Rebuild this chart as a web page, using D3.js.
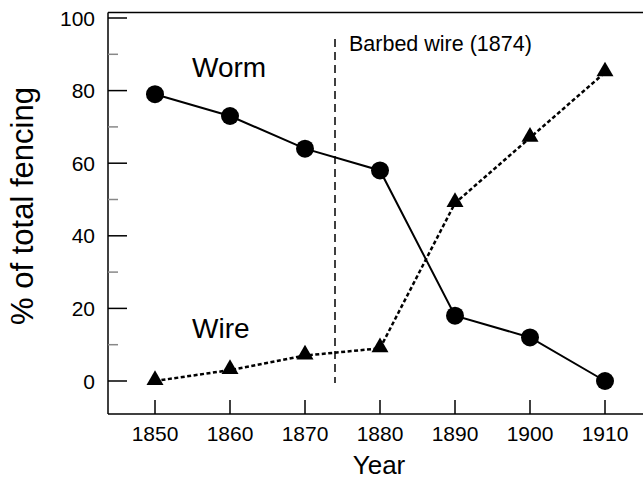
<!DOCTYPE html>
<html>
<head>
<meta charset="utf-8">
<script src="https://cdn.jsdelivr.net/npm/d3@7"></script>
<style>
  body { margin: 0; background: #fff; }
  svg text { font-family: "Liberation Sans", Arial, sans-serif; fill: #000; }
</style>
</head>
<body>
<div id="chart"></div>
<script>
// data
const years = [1850, 1860, 1870, 1880, 1890, 1900, 1910];
const worm = [79, 73, 64, 58, 18, 12, 0];
const wire = [0, 3, 7, 9, 49, 67, 85];
const yTicks = [0, 20, 40, 60, 80, 100];
const yMinor = [10, 30, 50, 70, 90];
const barbedYear = 1874;

const W = 643, H = 481;
const frameL = 108, frameR = 643, frameT = 12.5, frameB = 414;

const x = d3.scaleLinear().domain([1850, 1910]).range([155, 605]);
const y = d3.scaleLinear().domain([0, 100]).range([381, 18]);

const svg = d3.select("#chart").append("svg")
    .attr("width", W)
    .attr("height", H);

// frame: top, left and bottom lines
svg.append("line").attr("x1", frameL).attr("x2", frameR).attr("y1", frameT).attr("y2", frameT)
    .attr("stroke", "#000").attr("stroke-width", 1.5);
svg.append("line").attr("x1", frameL).attr("x2", frameL).attr("y1", frameT).attr("y2", frameB)
    .attr("stroke", "#000").attr("stroke-width", 1.5);
svg.append("line").attr("x1", frameL).attr("x2", frameR).attr("y1", frameB).attr("y2", frameB)
    .attr("stroke", "#000").attr("stroke-width", 1.5);

// y axis ticks (inside)
svg.selectAll(".ymaj").data(yTicks).join("line")
    .attr("x1", frameL).attr("x2", frameL + 19)
    .attr("y1", d => y(d)).attr("y2", d => y(d))
    .attr("stroke", "#000").attr("stroke-width", 1.5);
svg.selectAll(".ymin").data(yMinor).join("line")
    .attr("x1", frameL).attr("x2", frameL + 10)
    .attr("y1", d => y(d)).attr("y2", d => y(d))
    .attr("stroke", "#888").attr("stroke-width", 1.5);
svg.selectAll(".ylab").data(yTicks).join("text")
    .attr("x", 95).attr("y", d => y(d) + 7.5)
    .attr("text-anchor", "end")
    .style("font-size", "21px")
    .text(d => d);

// x axis ticks
svg.selectAll(".xmaj").data(years).join("line")
    .attr("x1", d => x(d)).attr("x2", d => x(d))
    .attr("y1", frameB).attr("y2", frameB - 14)
    .attr("stroke", "#000").attr("stroke-width", 1.5);
svg.selectAll(".xlab").data(years).join("text")
    .attr("x", d => x(d)).attr("y", 441)
    .attr("text-anchor", "middle")
    .style("font-size", "21px")
    .text(d => d);

// axis titles
svg.append("text")
    .attr("x", 379).attr("y", 474)
    .attr("text-anchor", "middle")
    .style("font-size", "26px")
    .text("Year");
svg.append("text")
    .attr("transform", "translate(33,206) rotate(-90)")
    .attr("text-anchor", "middle")
    .style("font-size", "31px")
    .text("% of total fencing");

// barbed wire marker
svg.append("line")
    .attr("x1", x(barbedYear)).attr("x2", x(barbedYear))
    .attr("y1", 39).attr("y2", 383)
    .attr("stroke", "#000").attr("stroke-width", 1.5)
    .attr("stroke-dasharray", "8,5");
svg.append("text")
    .attr("x", 349).attr("y", 51)
    .style("font-size", "21.5px")
    .text("Barbed wire (1874)");

// wire series (dotted, triangles)
const wireLine = d3.line().x((d, i) => x(years[i])).y(d => y(d));
svg.append("path").datum(wire)
    .attr("d", wireLine)
    .attr("fill", "none")
    .attr("stroke", "#000").attr("stroke-width", 2.5)
    .attr("stroke-dasharray", "4,2.5");
svg.selectAll(".tri").data(wire).join("path")
    .attr("d", d3.symbol().type(d3.symbolTriangle).size(125))
    .attr("transform", (d, i) => `translate(${x(years[i])},${y(d) - 1})`)
    .attr("fill", "#000");

// worm series (solid, circles)
const wormLine = d3.line().x((d, i) => x(years[i])).y(d => y(d));
svg.append("path").datum(worm)
    .attr("d", wormLine)
    .attr("fill", "none")
    .attr("stroke", "#000").attr("stroke-width", 2);
svg.selectAll(".dot").data(worm).join("circle")
    .attr("cx", (d, i) => x(years[i]))
    .attr("cy", d => y(d))
    .attr("r", 9)
    .attr("fill", "#000");

// series labels
svg.append("text")
    .attr("x", 192).attr("y", 77)
    .style("font-size", "28px")
    .text("Worm");
svg.append("text")
    .attr("x", 192).attr("y", 338)
    .style("font-size", "28px")
    .text("Wire");
</script>
</body>
</html>
